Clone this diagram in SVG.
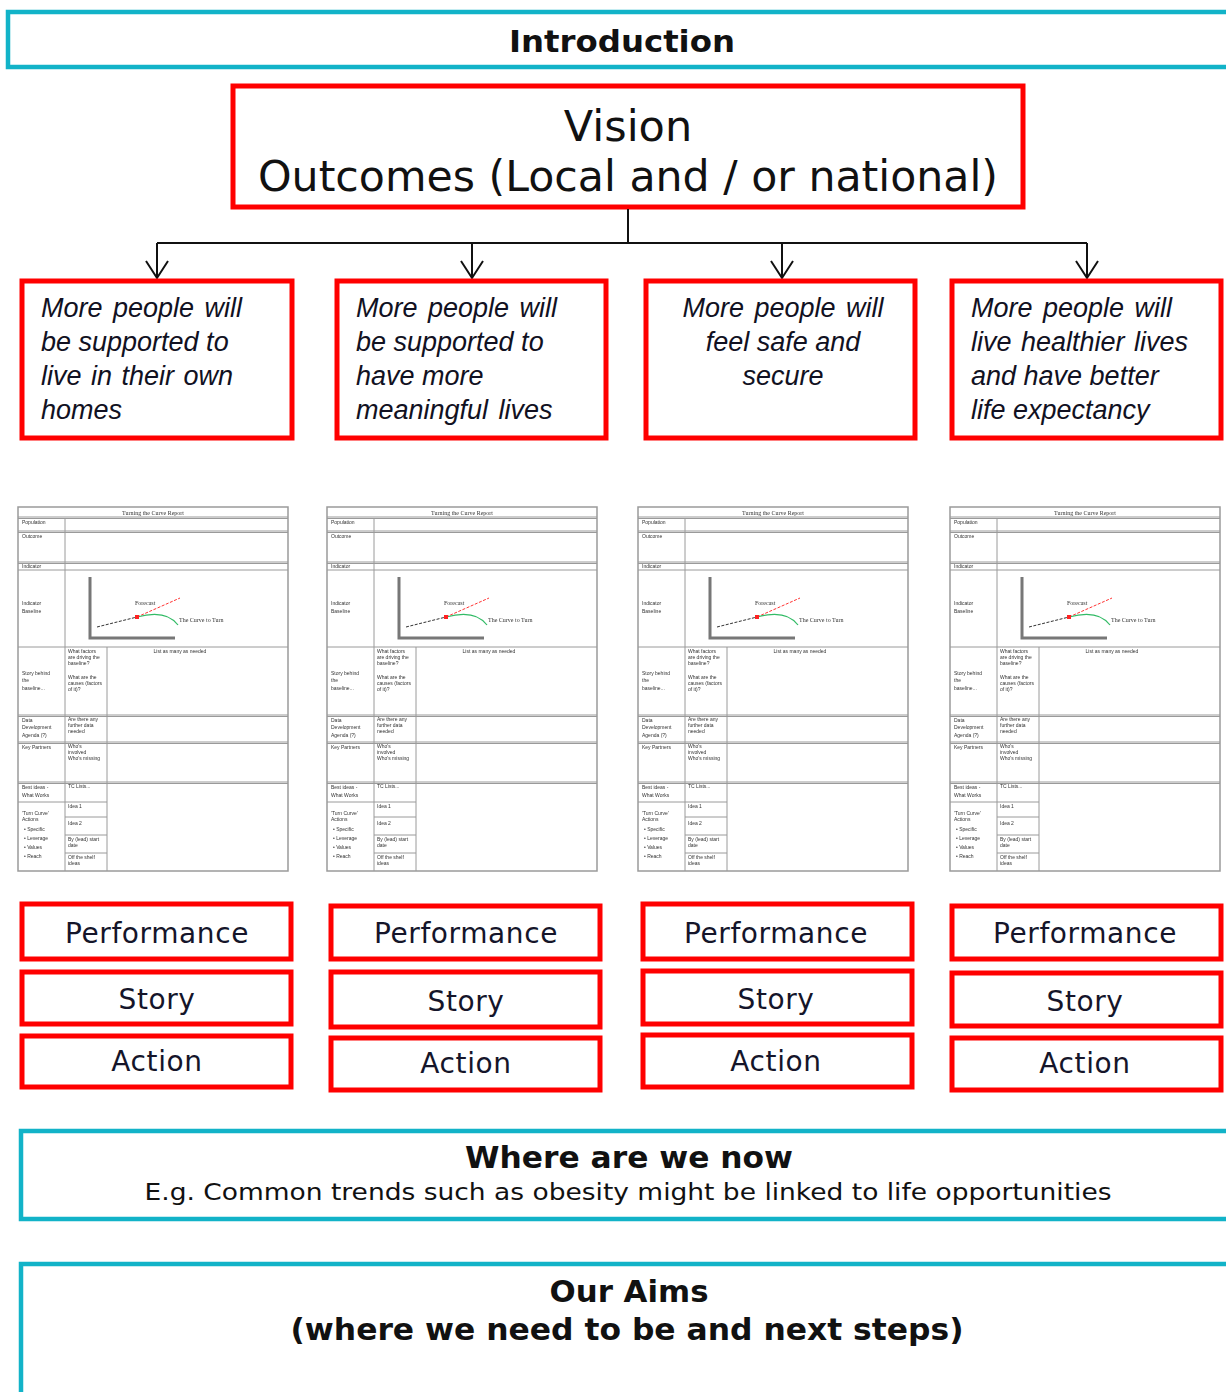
<svg xmlns="http://www.w3.org/2000/svg" xmlns:xlink="http://www.w3.org/1999/xlink" width="1226" height="1392" viewBox="0 0 1226 1392">
  <style>
    .band { fill: #ffffff; stroke: #12b3c8; stroke-width: 4.5; }
    .box { fill: #ffffff; stroke: #ff0000; stroke-width: 5; }
    .head { font-family: "DejaVu Sans", Verdana, sans-serif; font-weight: bold; fill: #111111; text-anchor: middle; }
    .sub { font-family: "DejaVu Sans", Verdana, sans-serif; fill: #111111; text-anchor: middle; }
    .outcome { font-family: "Liberation Sans", Arial, sans-serif; font-style: italic; font-size: 27px; fill: #111122; }
    .tab { font-family: "DejaVu Sans", Verdana, sans-serif; font-size: 28px; letter-spacing: 0.6px; fill: #15152a; text-anchor: middle; }
    .conn { fill: none; stroke: #111111; stroke-width: 2; }
    .grid { fill: none; stroke: #9a9a9a; stroke-width: 1; }
    .tiny { font-family: "Liberation Sans", Arial, sans-serif; font-size: 5px; fill: #333333; }
    .tinyserif { font-family: "Liberation Serif", "Times New Roman", serif; font-size: 6px; fill: #333333; }
  </style>
  <defs>
    <filter id="soft" x="-5%" y="-5%" width="110%" height="110%">
      <feGaussianBlur stdDeviation="0.55"/>
    </filter>
    <!-- open arrowhead, pointing along the line direction -->
    <marker id="chevron" viewBox="0 0 20 24" refX="18" refY="12" markerWidth="20" markerHeight="24" markerUnits="userSpaceOnUse" orient="auto">
      <path d="M1 1 L18 12 L1 23" fill="none" stroke="#111111" stroke-width="2"/>
    </marker>
    <!-- Turning the Curve report page, reused at four positions -->
    <g id="report" filter="url(#soft)">
      <rect x="0" y="0" width="270" height="364" fill="#ffffff" stroke="#9a9a9a" stroke-width="1.5"/>
      <path class="grid" d="M0 10 H270 M0 11.5 H270 M0 24 H270 M0 25.5 H270 M0 55 H270 M0 56.5 H270 M0 63 H270 M0 140 H270 M0 208 H270 M0 209.5 H270 M0 235 H270 M0 236.5 H270 M0 275 H270 M0 276.5 H270 M0 295 H89 M47 11.5 V364 M89 140 V364 M47 310 H89 M47 328 H89 M47 346 H89"/>
      <text class="tinyserif" x="135" y="8" text-anchor="middle">Turning the Curve Report</text>
      <text class="tiny" x="4" y="17">Population</text>
      <text class="tiny" x="4" y="31">Outcome</text>
      <text class="tiny" x="4" y="61">Indicator</text>
      <text class="tiny" x="4" y="98">Indicator</text>
      <text class="tiny" x="4" y="106">Baseline</text>
      <!-- baseline chart -->
      <path d="M72 70 V131 H157" fill="none" stroke="#777777" stroke-width="3"/>
      <path d="M79 120 L119 110" fill="none" stroke="#333333" stroke-width="1" stroke-dasharray="3 1.5"/>
      <path d="M119 110 L162 91" fill="none" stroke="#ff3333" stroke-width="1" stroke-dasharray="3 1.5"/>
      <path d="M119 110 Q148 102 160 118" fill="none" stroke="#33bb66" stroke-width="1.2"/>
      <rect x="117" y="108" width="4" height="4" fill="#ff2222"/>
      <text class="tinyserif" x="117" y="98">Forecast</text>
      <text class="tinyserif" x="161" y="115">The Curve to Turn</text>
      <!-- story row -->
      <text class="tiny" x="4" y="168">Story behind</text>
      <text class="tiny" x="4" y="175">the</text>
      <text class="tiny" x="4" y="183">baseline...</text>
      <text class="tiny" x="50" y="146">What factors</text>
      <text class="tiny" x="50" y="152">are driving the</text>
      <text class="tiny" x="50" y="158">baseline?</text>
      <text class="tiny" x="50" y="172">What are the</text>
      <text class="tiny" x="50" y="178">causes (factors</text>
      <text class="tiny" x="50" y="184">of it)?</text>
      <text class="tiny" x="162" y="146" text-anchor="middle">List as many as needed</text>
      <!-- data development row -->
      <text class="tiny" x="4" y="215">Data</text>
      <text class="tiny" x="4" y="222">Development</text>
      <text class="tiny" x="4" y="230">Agenda (?)</text>
      <text class="tiny" x="50" y="214">Are there any</text>
      <text class="tiny" x="50" y="220">further data</text>
      <text class="tiny" x="50" y="226">needed</text>
      <!-- key partners row -->
      <text class="tiny" x="4" y="242">Key Partners</text>
      <text class="tiny" x="50" y="241">Who's</text>
      <text class="tiny" x="50" y="247">involved</text>
      <text class="tiny" x="50" y="253">Who's missing</text>
      <!-- ideas rows -->
      <text class="tiny" x="4" y="282">Best ideas -</text>
      <text class="tiny" x="4" y="290">What Works</text>
      <text class="tiny" x="50" y="281">TC Lists...</text>
      <text class="tiny" x="4" y="308">'Turn Curve'</text>
      <text class="tiny" x="4" y="314">Actions</text>
      <text class="tiny" x="6" y="324">• Specific</text>
      <text class="tiny" x="6" y="333">• Leverage</text>
      <text class="tiny" x="6" y="342">• Values</text>
      <text class="tiny" x="6" y="351">• Reach</text>
      <text class="tiny" x="50" y="301">Idea 1</text>
      <text class="tiny" x="50" y="318">Idea 2</text>
      <text class="tiny" x="50" y="334">By (lead) start</text>
      <text class="tiny" x="50" y="340">date</text>
      <text class="tiny" x="50" y="352">Off the shelf</text>
      <text class="tiny" x="50" y="358">ideas</text>
    </g>
  </defs>

  <rect width="1226" height="1392" fill="#ffffff"/>

  <!-- Introduction band -->
  <g id="introduction">
    <rect class="band" x="8" y="12" width="1240" height="55"/>
    <text class="head" x="622" y="52" font-size="31" textLength="226" lengthAdjust="spacingAndGlyphs">Introduction</text>
  </g>

  <!-- Vision / outcomes -->
  <g id="vision">
    <rect class="box" x="233" y="86" width="790" height="121"/>
    <text class="sub" x="628" y="141" font-size="43">Vision</text>
    <text class="sub" x="628" y="191" font-size="43" textLength="740" lengthAdjust="spacingAndGlyphs">Outcomes (Local and / or national)</text>
  </g>

  <!-- Connectors from the vision to each outcome -->
  <g id="connectors">
    <path class="conn" d="M628 209 V243"/>
    <path class="conn" d="M157 243 H1087"/>
    <path class="conn" d="M157 243 V278" marker-end="url(#chevron)"/>
    <path class="conn" d="M472 243 V278" marker-end="url(#chevron)"/>
    <path class="conn" d="M782 243 V278" marker-end="url(#chevron)"/>
    <path class="conn" d="M1087 243 V278" marker-end="url(#chevron)"/>
  </g>

  <!-- Outcome boxes -->
  <g id="outcome-homes">
    <rect class="box" x="22" y="281" width="270" height="157"/>
    <text class="outcome" x="41" y="317" word-spacing="3">More people will</text>
    <text class="outcome" x="41" y="351">be supported to</text>
    <text class="outcome" x="41" y="385" word-spacing="2">live in their own</text>
    <text class="outcome" x="41" y="419">homes</text>
  </g>
  <g id="outcome-meaningful">
    <rect class="box" x="337" y="281" width="269" height="157"/>
    <text class="outcome" x="356" y="317" word-spacing="3">More people will</text>
    <text class="outcome" x="356" y="351">be supported to</text>
    <text class="outcome" x="356" y="385">have more</text>
    <text class="outcome" x="356" y="419" word-spacing="3">meaningful lives</text>
  </g>
  <g id="outcome-safe">
    <rect class="box" x="646" y="281" width="269" height="157"/>
    <text class="outcome" x="783" y="317" text-anchor="middle" word-spacing="3">More people will</text>
    <text class="outcome" x="783" y="351" text-anchor="middle">feel safe and</text>
    <text class="outcome" x="783" y="385" text-anchor="middle">secure</text>
  </g>
  <g id="outcome-healthier">
    <rect class="box" x="952" y="281" width="269" height="157"/>
    <text class="outcome" x="971" y="317" word-spacing="3">More people will</text>
    <text class="outcome" x="971" y="351" word-spacing="2">live healthier lives</text>
    <text class="outcome" x="971" y="385">and have better</text>
    <text class="outcome" x="971" y="419">life expectancy</text>
  </g>

  <!-- Report pages -->
  <g id="report-1"><use xlink:href="#report" href="#report" x="18" y="507"/></g>
  <g id="report-2"><use xlink:href="#report" href="#report" x="327" y="507"/></g>
  <g id="report-3"><use xlink:href="#report" href="#report" x="638" y="507"/></g>
  <g id="report-4"><use xlink:href="#report" href="#report" x="950" y="507"/></g>

  <!-- Performance / Story / Action stacks -->
  <g id="stack-1">
    <rect class="box" x="22" y="904" width="269" height="55"/>
    <text class="tab" x="157" y="943">Performance</text>
    <rect class="box" x="22" y="972" width="269" height="52"/>
    <text class="tab" x="157" y="1009">Story</text>
    <rect class="box" x="22" y="1036" width="269" height="51"/>
    <text class="tab" x="157" y="1071">Action</text>
  </g>
  <g id="stack-2">
    <rect class="box" x="331" y="906" width="269" height="53"/>
    <text class="tab" x="466" y="943">Performance</text>
    <rect class="box" x="331" y="972" width="269" height="55"/>
    <text class="tab" x="466" y="1011">Story</text>
    <rect class="box" x="331" y="1038" width="269" height="52"/>
    <text class="tab" x="466" y="1073">Action</text>
  </g>
  <g id="stack-3">
    <rect class="box" x="643" y="904" width="269" height="55"/>
    <text class="tab" x="776" y="943">Performance</text>
    <rect class="box" x="643" y="971" width="269" height="53"/>
    <text class="tab" x="776" y="1009">Story</text>
    <rect class="box" x="643" y="1035" width="269" height="52"/>
    <text class="tab" x="776" y="1071">Action</text>
  </g>
  <g id="stack-4">
    <rect class="box" x="952" y="906" width="269" height="53"/>
    <text class="tab" x="1085" y="943">Performance</text>
    <rect class="box" x="952" y="973" width="269" height="53"/>
    <text class="tab" x="1085" y="1011">Story</text>
    <rect class="box" x="952" y="1038" width="269" height="52"/>
    <text class="tab" x="1085" y="1073">Action</text>
  </g>

  <!-- Where are we now band -->
  <g id="where-now">
    <rect class="band" x="21" y="1131" width="1240" height="88"/>
    <text class="head" x="629" y="1168" font-size="31" textLength="328" lengthAdjust="spacingAndGlyphs">Where are we now</text>
    <text class="sub" x="628" y="1200" font-size="23" textLength="967" lengthAdjust="spacingAndGlyphs">E.g. Common trends such as obesity might be linked to life opportunities</text>
  </g>

  <!-- Our aims band -->
  <g id="our-aims">
    <rect class="band" x="21" y="1264" width="1240" height="160"/>
    <text class="head" x="629" y="1302" font-size="31" textLength="159" lengthAdjust="spacingAndGlyphs">Our Aims</text>
    <text class="head" x="627" y="1340" font-size="31" textLength="673" lengthAdjust="spacingAndGlyphs">(where we need to be and next steps)</text>
  </g>
</svg>
